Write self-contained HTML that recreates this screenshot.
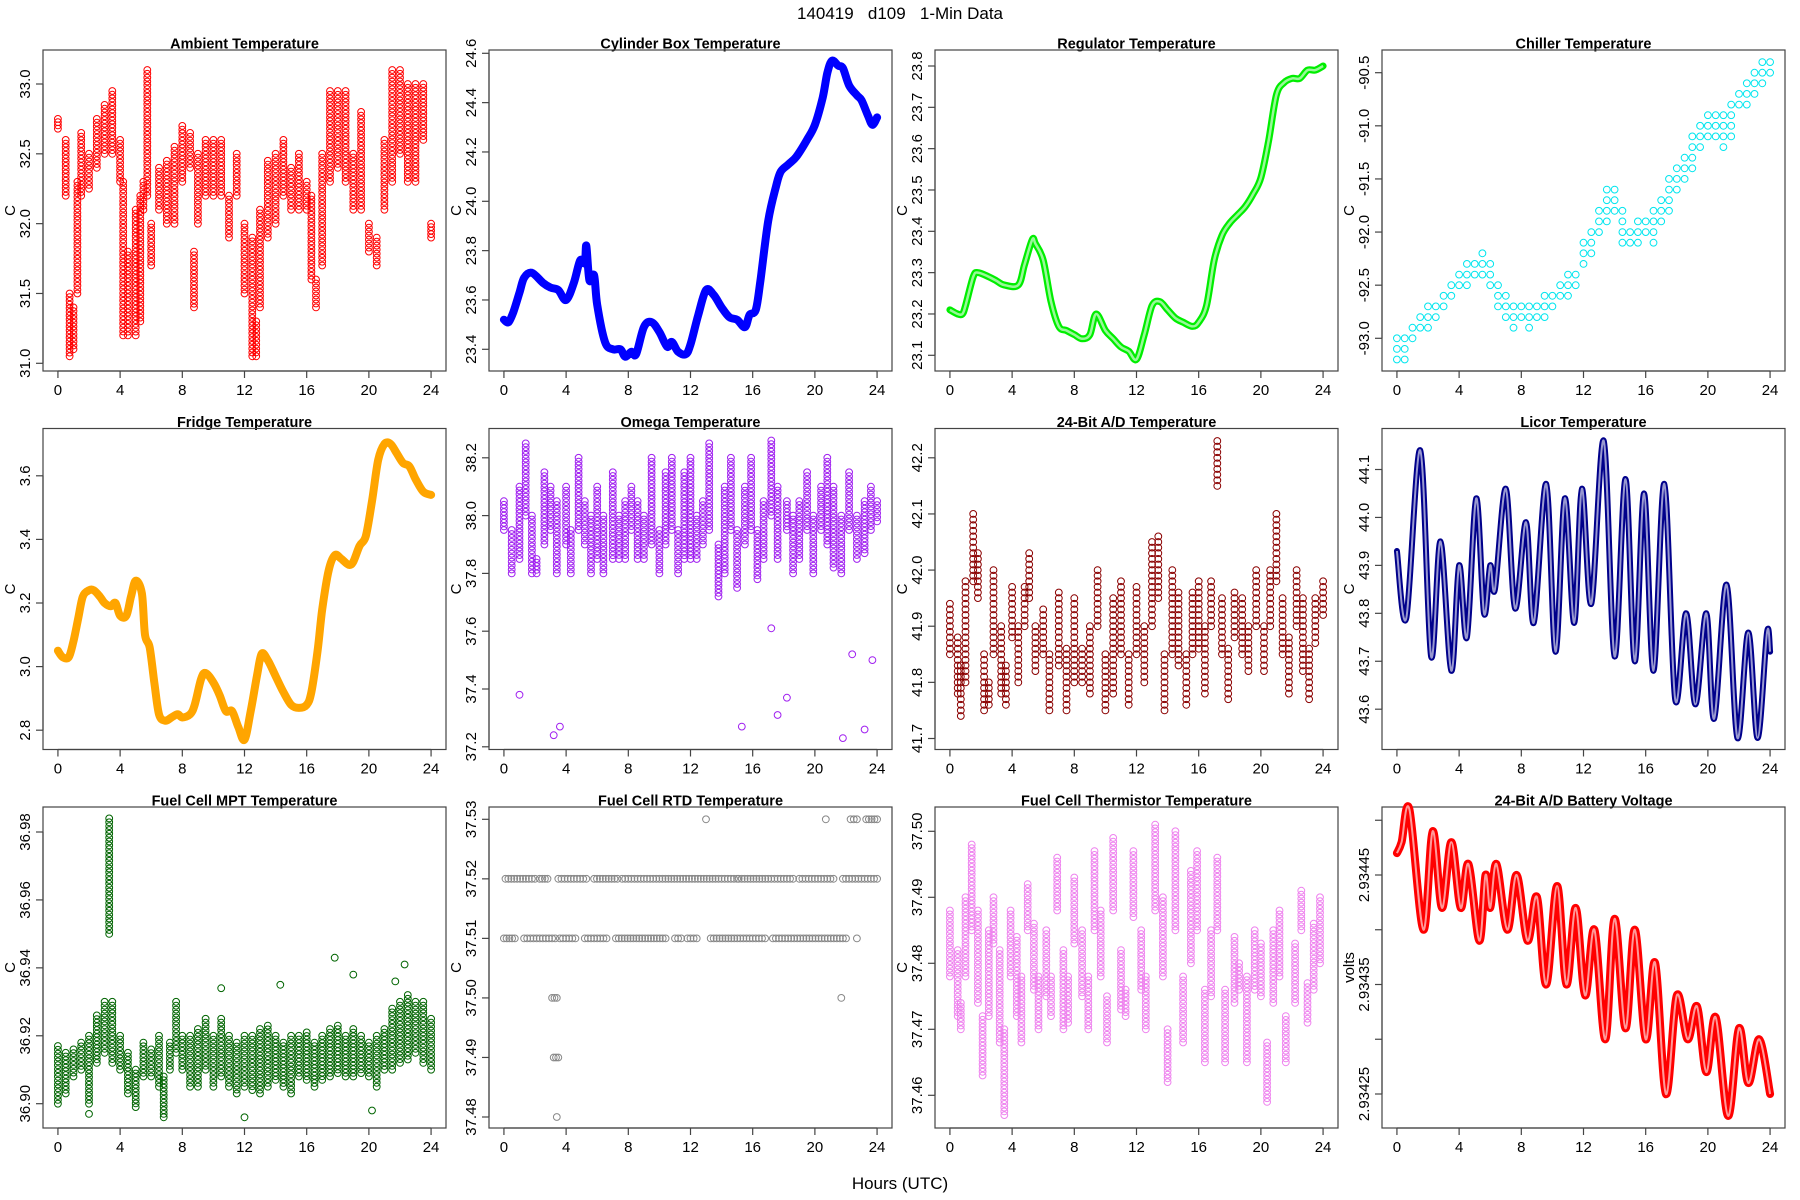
<!DOCTYPE html>
<html>
<head>
<meta charset="utf-8">
<style>
html,body{margin:0;padding:0;background:#fff;}
svg{display:block;font-family:"Liberation Sans",Arial,sans-serif;}
</style>
</head>
<body>
<svg id="fig" width="1800" height="1200" viewBox="0 0 1800 1200" xmlns="http://www.w3.org/2000/svg">
<rect width="1800" height="1200" fill="#fff"/>
<text x="900" y="19" font-size="17" text-anchor="middle">140419&#160;&#160;&#160;d109&#160;&#160;&#160;1-Min Data</text>
<text x="900" y="1189" font-size="17" text-anchor="middle">Hours (UTC)</text>
</svg>
<script>
// ---------- DATA ----------
const ambHours=[0,0.5,0.75,1,1.25,1.5,2,2.5,3,3.5,4,4.2,4.5,5,5.3,5.5,5.75,6,6.5,7,7.5,8,8.5,8.75,9,9.5,10,10.5,11,11.5,12,12.5,12.75,13,13.5,14,14.5,15,15.5,16,16.3,16.6,17,17.5,18,18.5,19,19.5,20,20.5,21,21.5,22,22.5,23,23.5,24];
const ambLo=[32.68,32.2,31.05,31.1,31.5,32.2,32.25,32.4,32.5,32.5,32.3,31.2,31.2,31.2,31.3,32.1,32.2,31.7,32.1,32.0,32.0,32.3,32.4,31.4,32.0,32.2,32.2,32.2,31.9,32.2,31.5,31.05,31.05,31.4,31.9,32.0,32.2,32.1,32.1,32.1,31.6,31.4,31.7,32.3,32.4,32.3,32.1,32.1,31.8,31.7,32.1,32.3,32.5,32.3,32.3,32.6,31.9];
const ambHi=[32.75,32.6,31.5,31.4,32.3,32.65,32.5,32.75,32.85,32.95,32.6,32.3,31.8,32.1,32.2,32.3,33.1,32.0,32.4,32.45,32.55,32.7,32.65,31.8,32.5,32.6,32.6,32.6,32.2,32.5,32.0,31.9,31.3,32.1,32.45,32.5,32.6,32.4,32.5,32.3,32.2,31.6,32.5,32.95,32.95,32.95,32.5,32.8,32.0,31.9,32.6,33.1,33.1,33.0,33.0,33.0,32.0];

const cylHours=[0,0.3,0.6,1.0,1.3,1.8,2.5,3.0,3.5,4.0,4.5,4.9,5.2,5.3,5.5,5.8,6.0,6.5,7.0,7.5,7.8,8.2,8.5,9.0,9.5,10.0,10.5,10.8,11.2,11.7,12.0,12.5,13.0,13.5,14.0,14.5,15.0,15.5,15.8,16.2,16.5,17.0,17.5,17.8,18.3,18.8,19.5,20.0,20.5,20.8,21.1,21.5,21.8,22.2,22.7,23.0,23.4,23.7,24.0];
const cylVals=[23.52,23.51,23.55,23.63,23.69,23.71,23.67,23.65,23.64,23.60,23.67,23.76,23.75,23.82,23.68,23.70,23.58,23.43,23.40,23.40,23.37,23.39,23.38,23.49,23.51,23.47,23.41,23.43,23.39,23.38,23.42,23.54,23.64,23.62,23.57,23.53,23.52,23.49,23.54,23.56,23.68,23.92,24.06,24.12,24.15,24.18,24.25,24.31,24.42,24.52,24.57,24.55,24.54,24.47,24.43,24.41,24.35,24.31,24.34];

const regHours=[0,0.5,0.8,1.0,1.5,1.8,2.5,3.0,3.5,4.4,4.8,5.3,5.5,6.0,6.5,7.0,7.5,8.0,8.5,9.0,9.4,10.0,10.5,11.0,11.5,12.0,12.5,13.0,13.5,14.0,14.5,15.0,15.6,16.0,16.5,17.0,17.5,18.0,18.5,19.0,19.5,20.0,20.5,21.0,21.5,22.0,22.5,23.0,23.5,24.0];
const regVals=[23.21,23.20,23.20,23.22,23.29,23.30,23.29,23.28,23.27,23.27,23.32,23.38,23.37,23.33,23.23,23.17,23.16,23.15,23.14,23.15,23.20,23.16,23.14,23.12,23.11,23.09,23.15,23.22,23.23,23.21,23.19,23.18,23.17,23.18,23.22,23.33,23.39,23.42,23.44,23.46,23.49,23.53,23.62,23.73,23.76,23.77,23.77,23.79,23.79,23.80];

const chlHours=[0,0.5,1,1.5,2,2.5,3,3.5,4,4.5,5,5.5,6,6.5,7,7.5,8,8.5,9,9.5,10,10.5,11,11.5,12,12.5,13,13.5,14,14.5,15,15.5,16,16.5,17,17.5,18,18.5,19,19.5,20,20.5,21,21.5,22,22.5,23,23.5,24];
const chlLo=[-93.2,-93.2,-93.0,-92.9,-92.9,-92.8,-92.7,-92.6,-92.5,-92.5,-92.4,-92.4,-92.5,-92.7,-92.8,-92.9,-92.8,-92.9,-92.8,-92.8,-92.7,-92.6,-92.6,-92.5,-92.3,-92.2,-92.0,-91.9,-91.8,-92.1,-92.1,-92.1,-92.0,-92.1,-91.9,-91.8,-91.6,-91.5,-91.4,-91.2,-91.1,-91.1,-91.2,-91.1,-90.8,-90.8,-90.7,-90.6,-90.5];
const chlHi=[-93.0,-93.0,-92.9,-92.8,-92.7,-92.7,-92.6,-92.5,-92.4,-92.3,-92.3,-92.2,-92.3,-92.5,-92.6,-92.7,-92.7,-92.7,-92.7,-92.6,-92.6,-92.5,-92.4,-92.4,-92.1,-92.0,-91.8,-91.6,-91.6,-91.8,-92.0,-91.9,-91.9,-91.8,-91.7,-91.5,-91.4,-91.3,-91.1,-91.0,-90.9,-90.9,-90.9,-90.8,-90.7,-90.6,-90.5,-90.4,-90.4];

const frgHours=[0,0.3,0.7,1.0,1.3,1.6,2.0,2.3,2.7,3.0,3.4,3.7,4.0,4.4,4.7,5.0,5.4,5.6,5.9,6.2,6.5,6.9,7.3,7.7,8.0,8.5,8.8,9.2,9.5,10.0,10.4,10.8,11.2,11.6,12.0,12.4,12.8,13.1,13.5,14.0,14.5,15.0,15.5,16.0,16.3,16.7,17.0,17.4,17.8,18.2,18.7,19.0,19.4,19.8,20.2,20.6,21.0,21.4,21.8,22.2,22.6,23.0,23.5,24.0];
const frgVals=[3.05,3.03,3.03,3.08,3.15,3.22,3.24,3.24,3.22,3.20,3.19,3.20,3.16,3.16,3.22,3.27,3.23,3.10,3.06,2.95,2.85,2.83,2.84,2.85,2.84,2.85,2.88,2.96,2.98,2.95,2.91,2.86,2.86,2.81,2.77,2.86,2.97,3.04,3.02,2.97,2.92,2.88,2.87,2.88,2.92,3.05,3.18,3.30,3.35,3.34,3.32,3.33,3.38,3.41,3.52,3.65,3.70,3.70,3.67,3.64,3.63,3.59,3.55,3.54];

const omgHours=[0,0.5,1.0,1.4,1.8,2.1,2.6,3.0,3.4,4.0,4.3,4.8,5.2,5.6,6.0,6.4,7.0,7.4,7.8,8.2,8.6,9.0,9.5,10.0,10.4,10.8,11.2,11.6,12.0,12.4,12.8,13.2,13.8,14.2,14.6,15.0,15.5,15.9,16.3,16.7,17.2,17.6,18.2,18.6,19.0,19.5,19.9,20.4,20.8,21.2,21.7,22.2,22.7,23.2,23.6,24.0];
const omgLo=[37.95,37.8,37.85,38.0,37.8,37.8,37.9,37.95,37.8,37.9,37.8,37.95,37.9,37.8,37.85,37.8,37.85,37.85,37.85,37.95,37.85,37.85,37.9,37.8,37.9,37.95,37.8,37.85,37.85,37.85,37.9,37.95,37.72,37.8,37.95,37.75,37.9,37.95,37.78,37.85,38.0,37.85,37.95,37.8,37.85,37.95,37.8,37.95,37.9,37.82,37.8,37.95,37.85,37.87,37.95,37.98];
const omgHi=[38.05,37.95,38.1,38.25,38.0,37.85,38.15,38.1,38.05,38.1,37.95,38.2,38.05,38.0,38.1,38.0,38.15,38.0,38.05,38.1,38.05,38.0,38.2,37.95,38.15,38.2,37.95,38.15,38.2,38.0,38.05,38.25,37.9,38.1,38.2,37.95,38.1,38.2,37.95,38.05,38.26,38.1,38.05,38.0,38.05,38.15,38.0,38.1,38.2,38.1,38.0,38.15,38.0,38.05,38.1,38.05];
const omgOutHours=[1.0,3.2,3.6,15.3,17.2,17.6,18.2,21.8,22.4,23.2,23.7];
const omgOutVals=[37.38,37.24,37.27,37.27,37.61,37.31,37.37,37.23,37.52,37.26,37.50];

const adtHours=[0,0.5,0.7,1.0,1.5,1.8,2.2,2.5,2.8,3.3,3.6,4.0,4.4,4.8,5.1,5.5,6.0,6.4,7.0,7.5,8.0,8.5,9.0,9.5,10.0,10.5,11.0,11.5,12.0,12.5,13.0,13.4,13.8,14.3,14.7,15.2,15.6,16.0,16.4,16.8,17.2,17.5,17.9,18.3,18.8,19.2,19.7,20.2,20.6,21.0,21.4,21.8,22.3,22.7,23.1,23.5,24.0];
const adtLo=[41.85,41.78,41.74,41.80,41.98,41.95,41.75,41.76,41.85,41.78,41.76,41.88,41.80,41.90,41.95,41.82,41.85,41.75,41.83,41.75,41.80,41.80,41.78,41.90,41.75,41.78,41.85,41.76,41.85,41.80,41.90,41.95,41.75,41.85,41.83,41.76,41.85,41.86,41.78,41.90,42.15,41.85,41.77,41.88,41.85,41.82,41.90,41.82,41.90,41.98,41.85,41.78,41.90,41.82,41.77,41.87,41.92];
const adtHi=[41.94,41.88,41.83,41.98,42.10,42.03,41.85,41.80,42.00,41.90,41.83,41.97,41.90,41.97,42.03,41.90,41.93,41.85,41.96,41.86,41.95,41.86,41.90,42.00,41.85,41.95,41.98,41.85,41.97,41.90,42.05,42.06,41.85,42.00,41.96,41.85,41.96,41.98,41.90,41.98,42.23,41.95,41.86,41.96,41.95,41.90,42.00,41.90,42.00,42.10,41.95,41.88,42.00,41.95,41.86,41.95,41.98];

const lcrHours=[0,0.6,1.5,2.2,2.8,3.5,4.0,4.5,5.1,5.6,6.0,6.3,7.0,7.6,8.3,8.8,9.6,10.2,10.8,11.4,11.9,12.5,13.3,14.0,14.7,15.3,15.9,16.5,17.2,17.9,18.6,19.2,19.9,20.4,21.2,21.9,22.6,23.2,23.8,24.0];
const lcrVals=[43.93,43.79,44.14,43.71,43.95,43.68,43.90,43.75,44.04,43.80,43.90,43.85,44.06,43.81,43.99,43.78,44.07,43.72,44.04,43.78,44.06,43.82,44.16,43.71,44.08,43.70,44.05,43.68,44.07,43.62,43.80,43.61,43.80,43.58,43.86,43.54,43.76,43.54,43.76,43.72];

const mptHours=[0,0.5,1.0,1.5,2.0,2.5,3.0,3.3,3.5,4.0,4.5,5.0,5.5,6.0,6.5,6.8,7.2,7.6,8.0,8.5,9.0,9.5,10,10.5,11,11.5,12,12.5,13,13.5,14,14.5,15,15.5,16,16.5,17,17.5,18,18.5,19,19.5,20,20.5,21,21.5,22,22.5,23,23.5,24];
const mptLo=[36.900,36.903,36.908,36.910,36.900,36.912,36.915,36.950,36.912,36.910,36.903,36.899,36.908,36.908,36.905,36.897,36.910,36.915,36.910,36.905,36.905,36.910,36.905,36.908,36.905,36.903,36.905,36.904,36.903,36.905,36.907,36.905,36.903,36.908,36.907,36.905,36.907,36.908,36.909,36.908,36.908,36.909,36.908,36.905,36.910,36.910,36.912,36.913,36.915,36.912,36.910];
const mptHi=[36.917,36.915,36.916,36.918,36.920,36.926,36.930,36.984,36.930,36.920,36.915,36.910,36.918,36.916,36.920,36.908,36.918,36.930,36.920,36.920,36.922,36.925,36.920,36.925,36.920,36.918,36.920,36.920,36.922,36.923,36.920,36.918,36.920,36.920,36.921,36.918,36.920,36.922,36.923,36.920,36.922,36.920,36.918,36.920,36.922,36.928,36.930,36.932,36.930,36.930,36.925];
const mptOutHours=[2.0,12,6.8,17.8,22.3,19,10.5,14.3,20.2,21.7];
const mptOutVals=[36.897,36.896,36.896,36.943,36.941,36.938,36.934,36.935,36.898,36.936];

const rtdStart=[0.1,1.8,2.3,3.5,3.9,5.8,7.6,10.2,14.0,15.1,17.2,19.0,21.8, 0,1.3,3.6,5.2,7.2,11.0,11.8,13.3,15.4,17.3,22.7, 13.0,20.7,22.3,23.3, 3.1,21.7, 3.2, 3.4];
const rtdEnd=[1.6,2.0,2.8,3.7,5.3,7.3,10.0,13.8,15.0,17.0,18.6,21.2,24.0, 0.7,3.3,4.6,6.6,10.4,11.4,12.4,15.2,16.8,22.0,22.7, 13.0,20.7,22.7,24.0, 3.4,21.7, 3.5, 3.4];
const rtdVals=[37.52,37.52,37.52,37.52,37.52,37.52,37.52,37.52,37.52,37.52,37.52,37.52,37.52, 37.51,37.51,37.51,37.51,37.51,37.51,37.51,37.51,37.51,37.51,37.51, 37.53,37.53,37.53,37.53, 37.50,37.50, 37.49, 37.48];

const thmHours=[0,0.5,0.7,1.0,1.4,1.8,2.1,2.5,2.8,3.2,3.5,3.9,4.3,4.6,5.0,5.4,5.7,6.2,6.5,6.9,7.3,7.6,8.0,8.5,8.9,9.3,9.7,10.1,10.5,11.0,11.3,11.8,12.3,12.6,13.2,13.7,14.0,14.5,15.0,15.5,15.9,16.4,16.8,17.2,17.7,18.3,18.6,19.1,19.6,20.0,20.4,20.8,21.2,21.6,22.2,22.6,23.0,23.4,23.8];
const thmLo=[37.478,37.472,37.470,37.478,37.485,37.474,37.463,37.472,37.483,37.468,37.457,37.478,37.472,37.468,37.485,37.476,37.470,37.475,37.472,37.488,37.470,37.471,37.483,37.475,37.470,37.485,37.478,37.468,37.488,37.473,37.472,37.487,37.476,37.470,37.488,37.478,37.462,37.485,37.468,37.480,37.485,37.465,37.475,37.485,37.465,37.474,37.476,37.465,37.476,37.475,37.459,37.474,37.478,37.465,37.474,37.485,37.471,37.476,37.480];
const thmHi=[37.488,37.482,37.474,37.490,37.498,37.488,37.472,37.485,37.490,37.482,37.470,37.488,37.484,37.478,37.492,37.486,37.478,37.485,37.478,37.496,37.482,37.478,37.493,37.485,37.478,37.497,37.488,37.475,37.499,37.482,37.476,37.497,37.485,37.478,37.501,37.490,37.470,37.500,37.478,37.494,37.497,37.476,37.485,37.496,37.476,37.484,37.480,37.478,37.485,37.483,37.468,37.485,37.488,37.472,37.483,37.491,37.477,37.486,37.490];

const batHours=[0,0.3,0.8,1.7,2.3,2.9,3.5,4.1,4.6,5.3,5.7,6.0,6.4,7.1,7.7,8.4,9.0,9.6,10.3,10.9,11.5,12.1,12.7,13.4,14.0,14.7,15.3,16.0,16.6,17.3,18.0,18.7,19.3,19.9,20.5,21.3,22.0,22.6,23.3,24.0];
const batVals=[2.93447,2.93448,2.93451,2.93440,2.93449,2.93442,2.93448,2.93442,2.93446,2.93439,2.93445,2.93442,2.93446,2.93440,2.93445,2.93439,2.93443,2.93435,2.93444,2.93435,2.93442,2.93434,2.93440,2.93430,2.93441,2.93431,2.93440,2.93430,2.93437,2.93425,2.93434,2.93430,2.93433,2.93427,2.93432,2.93423,2.93431,2.93426,2.93430,2.93425];

const xTicks=[0,4,8,12,16,20,24];
const ambTicks=["31.0","31.5","32.0","32.5","33.0"];
const cylTicks=["23.4","23.6","23.8","24.0","24.2","24.4","24.6"];
const regTicks=["23.1","23.2","23.3","23.4","23.5","23.6","23.7","23.8"];
const chlTicks=["-93.0","-92.5","-92.0","-91.5","-91.0","-90.5"];
const frgTicks=["2.8","3.0","3.2","3.4","3.6"];
const omgTicks=["37.2","37.4","37.6","37.8","38.0","38.2"];
const adtTicks=["41.7","41.8","41.9","42.0","42.1","42.2"];
const lcrTicks=["43.6","43.7","43.8","43.9","44.0","44.1"];
const mptTicks=["36.90","36.92","36.94","36.96","36.98"];
const rtdTicks=["37.48","37.49","37.50","37.51","37.52","37.53"];
const thmTicks=["37.46","37.47","37.48","37.49","37.50"];
const batTicks=["2.93425","2.9343","2.93435","2.9344","2.93445","2.9345"];
const batLabelled=[true,false,true,false,true,false];

// ---------- LAYOUT ----------
const NS="http://www.w3.org/2000/svg";
const svg=document.getElementById('fig');
const colL=[43,489,935,1382], rowT=[50,428.5,807], BW=403, BH=321;
function el(tag,attrs,parent){const e=document.createElementNS(NS,tag);for(const k in attrs)e.setAttribute(k,attrs[k]);(parent||svg).appendChild(e);return e;}

function makePanel(p){
  const L=colL[p.c],T=rowT[p.r];
  const g=el('g',{});
  
  
  const xs=h=>L+BW*(h+0.96)/25.92;
  const ys=v=>T+p.pA+(v-p.vA)*(p.pB-p.pA)/(p.vB-p.vA);
  const t=el('text',{x:L+BW/2,y:T-1.5,'font-size':14.5,'font-weight':'bold','text-anchor':'middle'},g);
  t.textContent=p.title;
  
  
  const b=el('rect',{x:L,y:T,width:BW,height:BH,fill:'none',stroke:'#444','stroke-width':1.2},g);
  
  
  const xa=el('g',{},g);
  
  
  el('line',{x1:xs(xTicks[0]),x2:xs(xTicks[xTicks.length-1]),y1:T+BH,y2:T+BH,stroke:'#444','stroke-width':1.2},xa);
  xTicks.forEach(h=>{
    el('line',{x1:xs(h),x2:xs(h),y1:T+BH,y2:T+BH+7,stroke:'#444','stroke-width':1.2},xa);
    const tl=el('text',{x:xs(h),y:T+BH+24,'font-size':15,'text-anchor':'middle'},xa);
    tl.textContent=h;
    
    
  });
  const ya=el('g',{},g);
  
  
  const tv=p.ticks.map(Number);
  el('line',{x1:L,x2:L,y1:ys(tv[0]),y2:ys(tv[tv.length-1]),stroke:'#444','stroke-width':1.2},ya);
  p.ticks.forEach((s,i)=>{
    const y=ys(tv[i]);
    el('line',{x1:L-7,x2:L,y1:y,y2:y,stroke:'#444','stroke-width':1.2},ya);
    if(p.labelled&&!p.labelled[i])return;
    const tl=el('text',{x:0,y:0,'font-size':15,'text-anchor':'middle',transform:`translate(${L-13},${y}) rotate(-90)`},ya);
    tl.textContent=s;
    
    
  });
  const yl=el('text',{x:0,y:0,'font-size':15,'text-anchor':'middle',transform:`translate(${L-28},${T+BH/2}) rotate(-90)`},ya);
  yl.textContent=p.ylab;
  
  
  const sg=el('g',{fill:'none',stroke:p.col,'stroke-width':1},g);
  
  
  return {g:sg,xs,ys};
}
function circ(g,x,y){
  const c=el('circle',{cx:x.toFixed(1),cy:y.toFixed(1),r:3.4},g);
  
  
}
function ranges(P,hours,lo,hi,step){
  hours.forEach((h,i)=>{
    const x=P.xs(h);
    if(step){
      for(let v=lo[i];v<=hi[i]+step*0.01;v+=step)circ(P.g,x,P.ys(v));
    }else{
      const y1=P.ys(hi[i]),y2=P.ys(lo[i]);
      const n=Math.max(1,Math.round((y2-y1)/3.8));
      for(let k=0;k<=n;k++)circ(P.g,x,y1+(y2-y1)*k/n);
    }
  });
}
function points(P,hours,vals){hours.forEach((h,i)=>circ(P.g,P.xs(h),P.ys(vals[i])));}
function ribbon(P,hours,vals,col,W,w){
  const pts=hours.map((h,i)=>[P.xs(h),P.ys(vals[i])]);
  let d=`M${pts[0][0]},${pts[0][1]}`;
  for(let i=0;i<pts.length-1;i++){
    const p0=pts[Math.max(0,i-1)],p1=pts[i],p2=pts[i+1],p3=pts[Math.min(pts.length-1,i+2)];
    const c1=[p1[0]+(p2[0]-p0[0])/6,p1[1]+(p2[1]-p0[1])/6];
    const c2=[p2[0]-(p3[0]-p1[0])/6,p2[1]-(p3[1]-p1[1])/6];
    d+=` C${c1[0].toFixed(1)},${c1[1].toFixed(1)} ${c2[0].toFixed(1)},${c2[1].toFixed(1)} ${p2[0].toFixed(1)},${p2[1].toFixed(1)}`;
  }
  const a=el('path',{d,stroke:col,'stroke-width':W,'stroke-linejoin':'round','stroke-linecap':'round',fill:'none'},P.g);
  
  
  if(w){
    const b=el('path',{d,stroke:'#fff','stroke-width':w,'stroke-opacity':0.6,'stroke-linejoin':'round',fill:'none'},P.g);
    
    
  }
}
function segs(P,st,en,vals){
  st.forEach((s,i)=>{
    const x1=P.xs(s),x2=P.xs(en[i]),y=P.ys(vals[i]);
    const n=Math.max(0,Math.round((x2-x1)/3));
    for(let k=0;k<=n;k++)circ(P.g,n?x1+(x2-x1)*k/n:x1,y);
  });
}

let P;
P=makePanel({name:'ambient',r:0,c:0,title:'Ambient Temperature',ylab:'C',col:'#ff0000',ticks:ambTicks,vA:33.0,pA:34,vB:31.0,pB:313.3});
ranges(P,ambHours,ambLo,ambHi);
P=makePanel({name:'cylinder-box',r:0,c:1,title:'Cylinder Box Temperature',ylab:'C',col:'#0000ff',ticks:cylTicks,vA:24.6,pA:3.3,vB:23.4,pB:299.3});
ribbon(P,cylHours,cylVals,'#0000ff',8,0);
P=makePanel({name:'regulator',r:0,c:2,title:'Regulator Temperature',ylab:'C',col:'#00ff00',ticks:regTicks,vA:23.8,pA:16,vB:23.1,pB:305.3});
ribbon(P,regHours,regVals,'#00ee00',7,2.5);
P=makePanel({name:'chiller',r:0,c:3,title:'Chiller Temperature',ylab:'C',col:'#00e5ee',ticks:chlTicks,vA:-90.5,pA:22.7,vB:-93.0,pB:288.3});
ranges(P,chlHours,chlLo,chlHi,0.1);
P=makePanel({name:'fridge',r:1,c:0,title:'Fridge Temperature',ylab:'C',col:'#ffa500',ticks:frgTicks,vA:3.6,pA:47.3,vB:2.8,pB:301.7});
ribbon(P,frgHours,frgVals,'#ffa500',8,0);
P=makePanel({name:'omega',r:1,c:1,title:'Omega Temperature',ylab:'C',col:'#a020f0',ticks:omgTicks,vA:38.2,pA:29.3,vB:37.2,pB:318.3});
ranges(P,omgHours,omgLo,omgHi);
points(P,omgOutHours,omgOutVals);
P=makePanel({name:'ad-24bit',r:1,c:2,title:'24-Bit A/D Temperature',ylab:'C',col:'#8b0000',ticks:adtTicks,vA:42.2,pA:29.3,vB:41.7,pB:310});
ranges(P,adtHours,adtLo,adtHi,0.01);
P=makePanel({name:'licor',r:1,c:3,title:'Licor Temperature',ylab:'C',col:'#00008b',ticks:lcrTicks,vA:44.1,pA:41,vB:43.6,pB:280.7});
ribbon(P,lcrHours,lcrVals,'#00008b',6,2);
P=makePanel({name:'fuel-cell-mpt',r:2,c:0,title:'Fuel Cell MPT Temperature',ylab:'C',col:'#006400',ticks:mptTicks,vA:36.98,pA:25,vB:36.90,pB:296.7});
ranges(P,mptHours,mptLo,mptHi);
points(P,mptOutHours,mptOutVals);
P=makePanel({name:'fuel-cell-rtd',r:2,c:1,title:'Fuel Cell RTD Temperature',ylab:'C',col:'#888888',ticks:rtdTicks,vA:37.53,pA:12.3,vB:37.48,pB:310});
segs(P,rtdStart,rtdEnd,rtdVals);
P=makePanel({name:'fuel-cell-thermistor',r:2,c:2,title:'Fuel Cell Thermistor Temperature',ylab:'C',col:'#ee82ee',ticks:thmTicks,vA:37.50,pA:24.3,vB:37.46,pB:288.3});
ranges(P,thmHours,thmLo,thmHi);
P=makePanel({name:'battery-voltage',r:2,c:3,title:'24-Bit A/D Battery Voltage',ylab:'volts',col:'#ff0000',ticks:batTicks,labelled:batLabelled,vA:2.93445,pA:68,vB:2.93425,pB:287});
ribbon(P,batHours,batVals,'#ff0000',8,2);
</script>
</body>
</html>
